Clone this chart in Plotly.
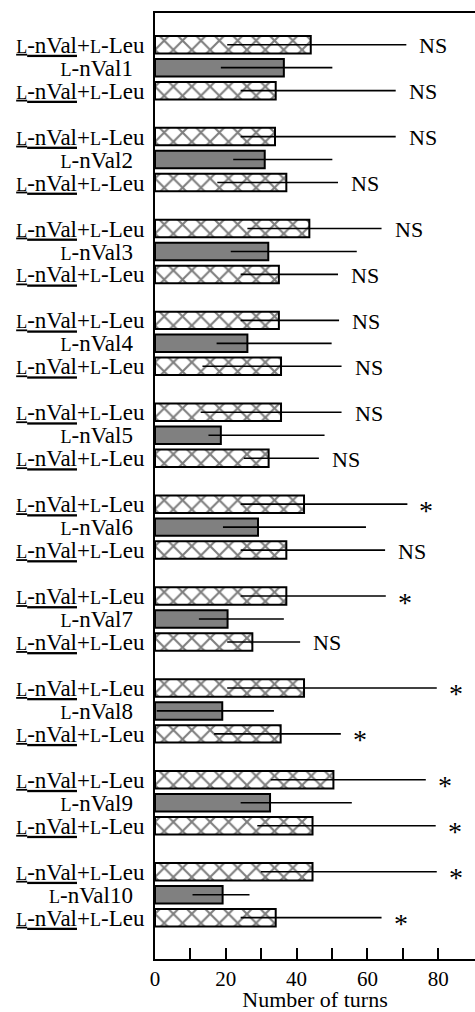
import plotly.graph_objects as go

# ---- data ----
groups = list(range(1, 11))

# L-nVal+L-Leu (upper bar of each group)
mix_top_mean = [44.0, 33.9, 43.6, 35.0, 35.6, 42.1, 37.1, 42.1, 50.4, 44.5]
mix_top_lo = [20.4, 24.2, 26.1, 24.2, 12.9, 24.2, 24.2, 20.4, 32.7, 29.9]
mix_top_hi = [71.0, 68.0, 64.0, 52.0, 52.7, 71.3, 65.2, 79.6, 76.5, 79.6]
mix_top_sig = ["NS", "NS", "NS", "NS", "NS", "*", "*", "*", "*", "*"]

# L-nVal alone (middle, grey bar)
nval_mean = [36.4, 31.0, 32.0, 26.1, 18.6, 29.1, 20.5, 19.0, 32.5, 19.1]
nval_lo = [18.6, 22.1, 21.4, 17.4, 15.1, 19.2, 12.4, 0.5, 24.2, 10.6]
nval_hi = [50.1, 50.1, 57.0, 49.9, 47.9, 59.6, 36.4, 33.6, 55.6, 26.7]

# L-nVal+L-Leu (lower bar of each group)
mix_bot_mean = [34.1, 37.1, 35.0, 35.6, 32.1, 37.1, 27.5, 35.5, 44.5, 34.1]
mix_bot_lo = [24.2, 17.6, 24.2, 13.4, 25.1, 24.2, 20.4, 16.7, 28.9, 24.2]
mix_bot_hi = [68.0, 51.7, 51.7, 52.7, 46.3, 65.0, 41.0, 52.5, 79.3, 64.0]
mix_bot_sig = ["NS", "NS", "NS", "NS", "NS", "NS", "NS", "*", "*", "*"]

x_tick_vals = [0, 10, 20, 30, 40, 50, 60, 70, 80]
x_tick_text = ["0", "", "20", "", "40", "", "60", "", "80"]
x_title = "Number of turns"

FONT = "Liberation Serif"
SC = "<span style='font-size:18px'>L</span>"
mix_label = f"<u>{SC}-nVal</u>+{SC}-Leu"


def nval_label(g):
    return f"{SC}-nVal{g}\u00a0\u00a0"


n = len(groups)
pos_top = [4 * i for i in range(n)]
pos_mid = [4 * i + 1 for i in range(n)]
pos_bot = [4 * i + 2 for i in range(n)]


def err(mean, lo, hi):
    return dict(type="data", symmetric=False,
                array=[h - m for m, h in zip(mean, hi)],
                arrayminus=[m - l for m, l in zip(mean, lo)],
                color="black", thickness=1.6, width=0)


hatch = dict(shape="x", fgcolor="black", bgcolor="white", size=13, solidity=0.3)
bar_w = 0.76

fig = go.Figure()
fig.add_trace(go.Bar(y=pos_top, x=mix_top_mean, orientation="h", width=bar_w,
                     marker=dict(color="white", pattern=hatch, line=dict(color="black", width=2)),
                     error_x=err(mix_top_mean, mix_top_lo, mix_top_hi)))
fig.add_trace(go.Bar(y=pos_mid, x=nval_mean, orientation="h", width=bar_w,
                     marker=dict(color="#808080", line=dict(color="black", width=2)),
                     error_x=err(nval_mean, nval_lo, nval_hi)))
fig.add_trace(go.Bar(y=pos_bot, x=mix_bot_mean, orientation="h", width=bar_w,
                     marker=dict(color="white", pattern=hatch, line=dict(color="black", width=2)),
                     error_x=err(mix_bot_mean, mix_bot_lo, mix_bot_hi)))

annotations = []
for pos, hi, sig in list(zip(pos_top, mix_top_hi, mix_top_sig)) + list(zip(pos_bot, mix_bot_hi, mix_bot_sig)):
    is_star = sig == "*"
    annotations.append(dict(x=hi, y=pos, xref="x", yref="y", text=sig, showarrow=False,
                            xanchor="left", yanchor="middle",
                            xshift=10 if is_star else 11, yshift=-6 if is_star else -1,
                            font=dict(family=FONT, size=28 if is_star else 22, color="black")))

tickvals = []
ticktext = []
for i, g in enumerate(groups):
    tickvals += [pos_top[i], pos_mid[i], pos_bot[i]]
    ticktext += [mix_label, nval_label(g), mix_label]

fig.update_layout(
    width=475, height=1012,
    margin=dict(l=155, r=0, t=13, b=53, autoexpand=False),
    paper_bgcolor="white", plot_bgcolor="white",
    showlegend=False, barmode="overlay",
    font=dict(family=FONT, color="black", size=21),
    annotations=annotations,
)
fig.update_xaxes(range=[0, 90.4], tickvals=x_tick_vals, ticktext=x_tick_text,
                 ticks="inside", ticklen=11, tickwidth=1.5, tickcolor="black",
                 showline=True, linecolor="black", linewidth=2, mirror=True,
                 showgrid=False, zeroline=False, automargin=False,
                 tickfont=dict(family=FONT, size=21, color="black"),
                 title=dict(text=x_title, font=dict(family=FONT, size=22, color="black"), standoff=5))
fig.update_yaxes(range=[39.8, -1.38], tickvals=tickvals, ticktext=ticktext,
                 ticks="", showline=True, linecolor="black", linewidth=2, mirror=False,
                 showgrid=False, zeroline=False, ticklabelstandoff=4, automargin=False,
                 tickfont=dict(family=FONT, size=23, color="black"))

# remove the default 8px page margin so the figure fills the window exactly
fig.write_html("out.html",
               config={"displayModeBar": False},
               post_script="document.body.style.margin='0';document.body.style.overflow='hidden';")
